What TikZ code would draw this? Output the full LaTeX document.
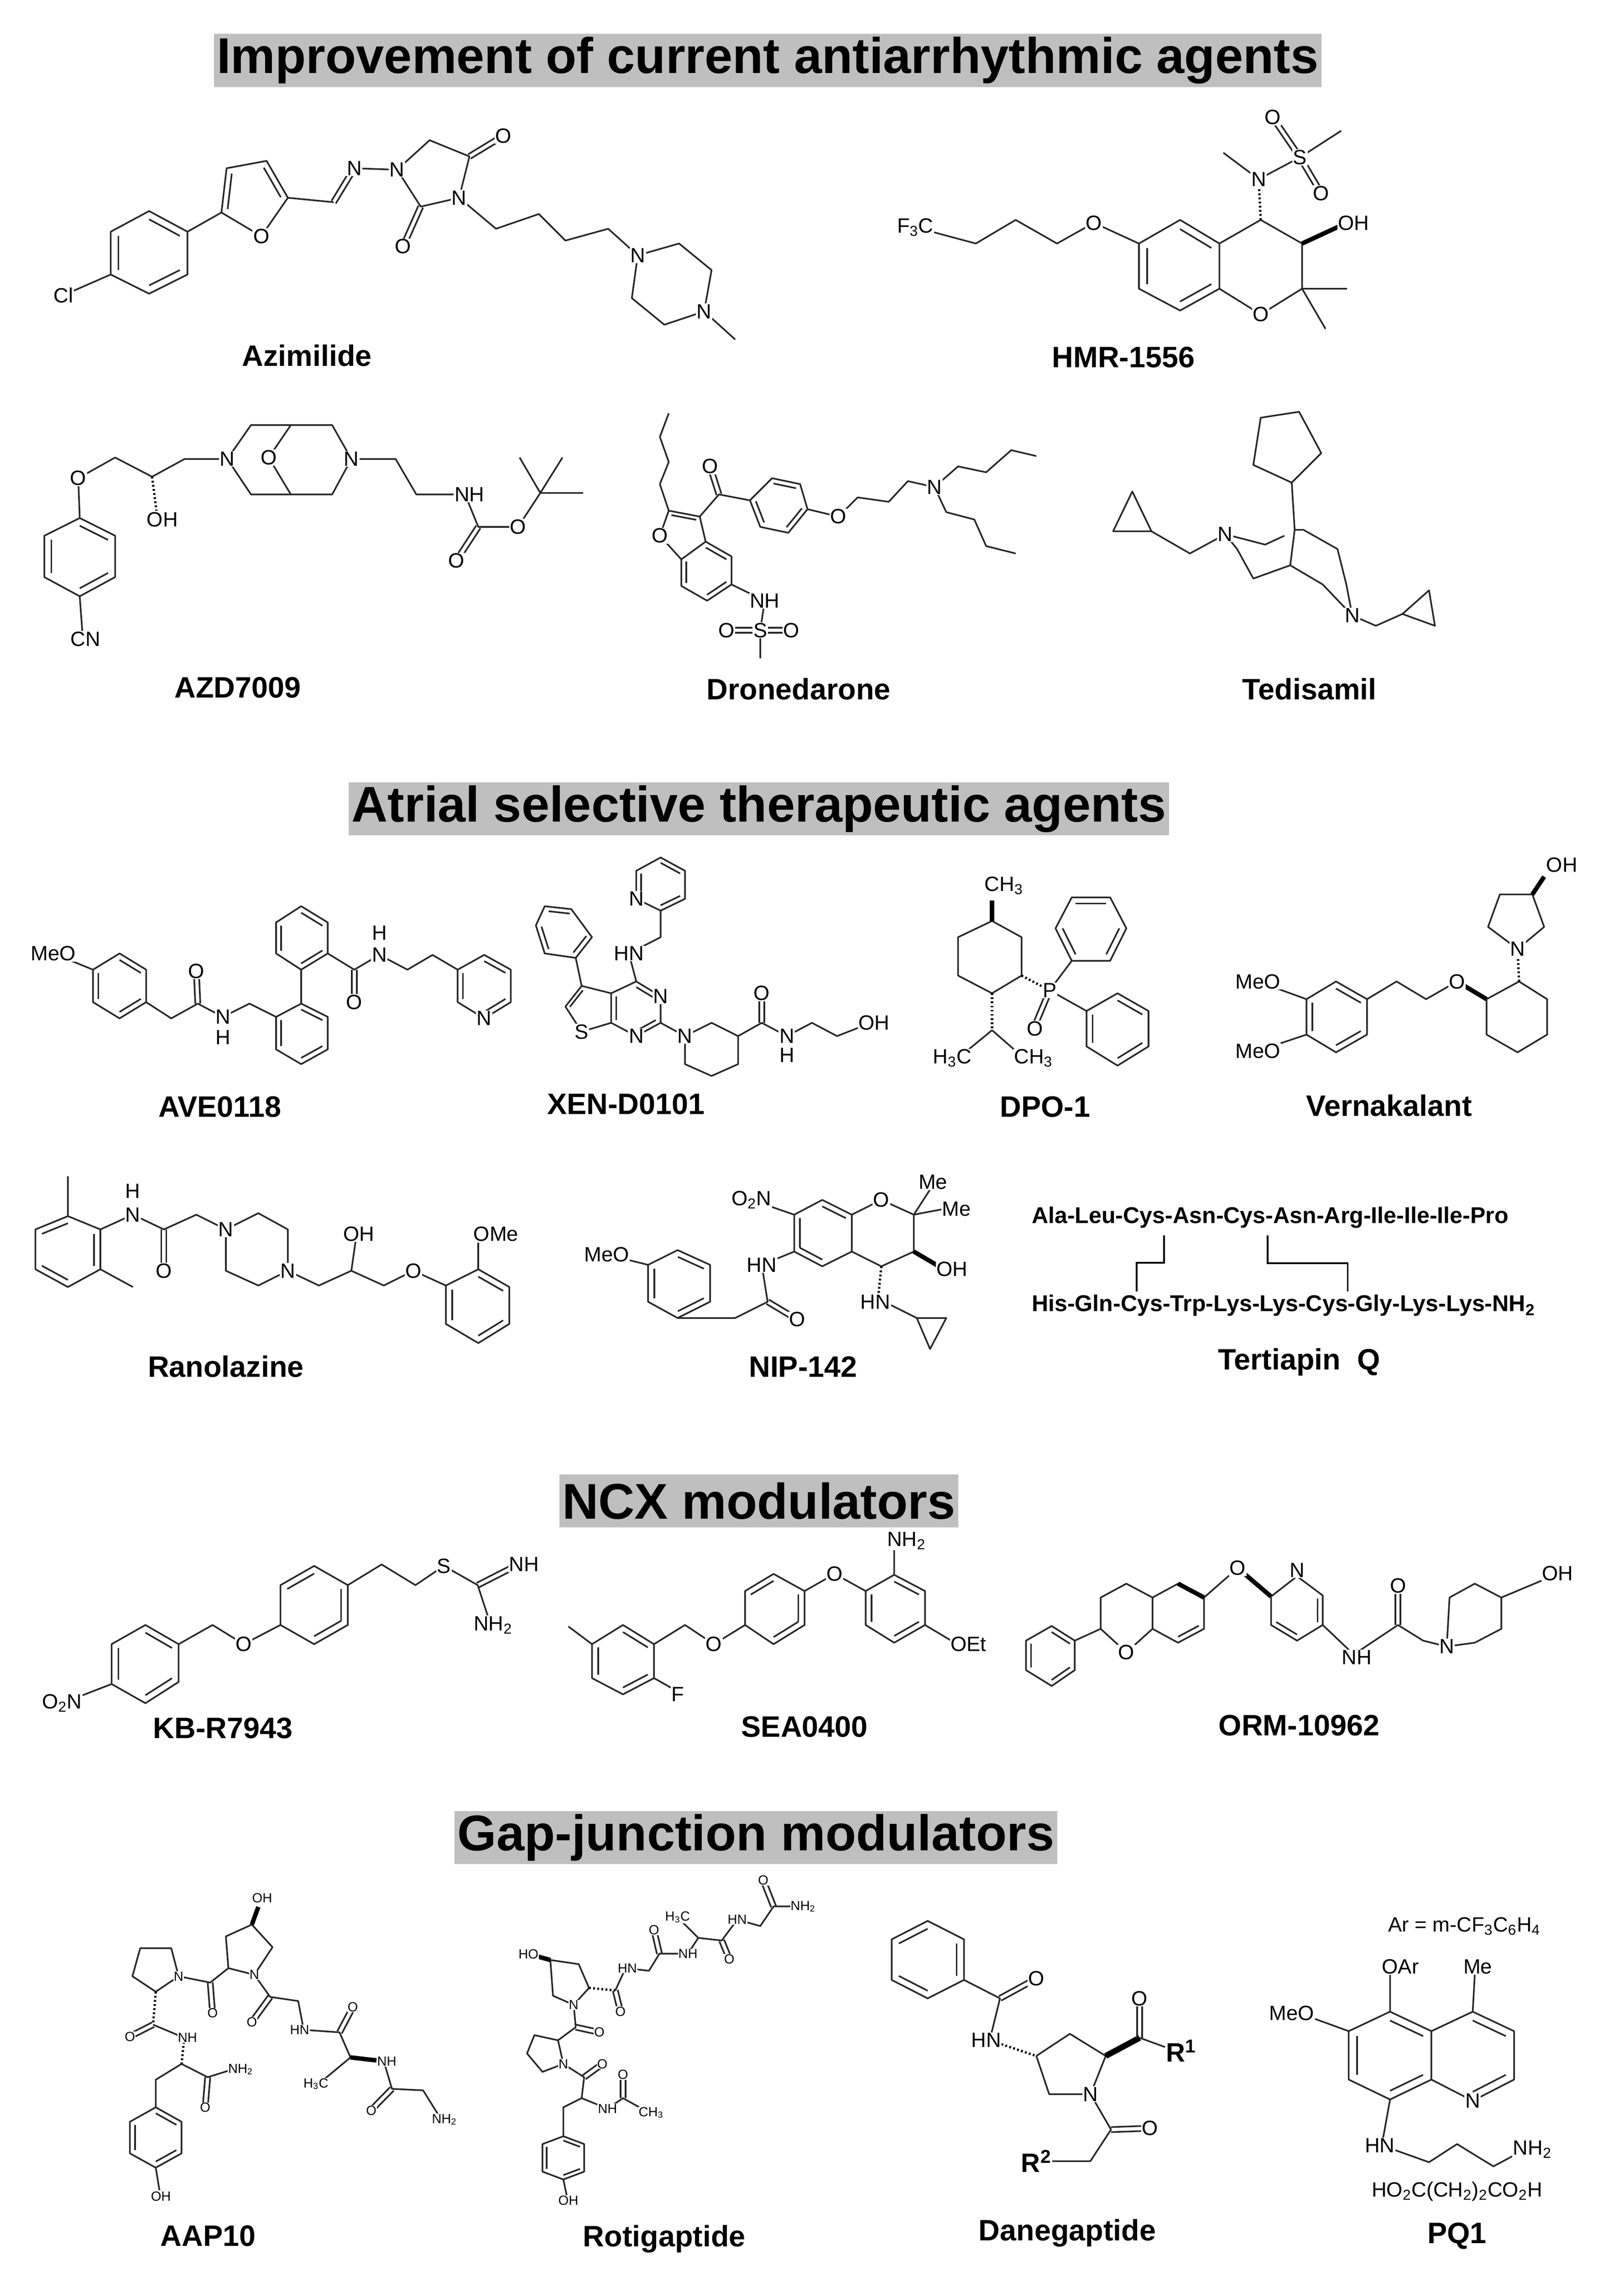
\documentclass[tikz,border=0pt]{standalone}
\usepackage{fontspec}
\setmainfont{Liberation Sans}
\usetikzlibrary{calc}
\begin{document}
\begin{tikzpicture}[x=1pt,y=-1pt,
 bond/.style={line width=1.1pt,line join=round,black!85},
 wedge/.style={line width=3pt,black},
 hash/.style={line width=1.6pt,dash pattern=on 1.2pt off 1.6pt},
 atom/.style={fill=white,inner sep=0.5pt,font=\fontsize{14}{14}\selectfont},
 satom/.style={fill=white,inner sep=0.3pt,font=\fontsize{9}{9}\selectfont},
 hdr/.style={fill=black!25,inner sep=2pt,font=\fontsize{34}{34}\selectfont\bfseries,minimum height=36pt},
 lbl/.style={font=\fontsize{20}{20}\selectfont\bfseries}]
\newcommand\sbs[1]{\textsubscript{#1}}
\newcommand\inb[3]{\draw[bond] ($#1!0.2!#3$) -- ($#2!0.2!#3$);}
\newcommand\dbo[2]{\draw[bond] ($#1!1.7pt!90:#2$)--($#2!1.7pt!-90:#1$) ($#1!1.7pt!-90:#2$)--($#2!1.7pt!90:#1$);}
\useasboundingbox (0,0) rectangle (1100,1545.5);
\fill[white] (0,0) rectangle (1100,1545.5);
% headers
\node[hdr] (h1) at (520,41) {Improvement of current antiarrhythmic agents};
\node[hdr] (h2) at (514,548) {Atrial selective therapeutic agents};
\node[hdr] (h3) at (514,1017) {NCX modulators};
\node[hdr] (h4) at (512,1245) {Gap-junction modulators};
% labels
\node[lbl] at (208,241) {Azimilide};
\node[lbl] at (761,242) {HMR-1556};
\node[lbl] at (161,466) {AZD7009};
\node[lbl] at (541,467) {Dronedarone};
\node[lbl] at (887,467) {Tedisamil};
\node[lbl] at (149,750) {AVE0118};
\node[lbl] at (424,748) {XEN-D0101};
\node[lbl] at (708,750) {DPO-1};
\node[lbl] at (941,749) {Vernakalant};
\node[lbl] at (153,926) {Ranolazine};
\node[lbl] at (544,926) {NIP-142};
\node[lbl] at (880,923) {Tertiapin\ \ Q};
\node[lbl] at (151,1171) {KB-R7943};
\node[lbl] at (545,1170) {SEA0400};
\node[lbl] at (880,1169) {ORM-10962};
\node[lbl] at (141,1515) {AAP10};
\node[lbl] at (450,1517) {Rotigaptide};
\node[lbl] at (723,1513) {Danegaptide};
\node[lbl] at (987,1515) {PQ1};
%================ Azimilide
\draw[bond] (101,143)--(127,157)--(127,186)--(101,199)--(75,186)--(75,157)--cycle;
\inb{(101,143)}{(127,157)}{(101,171)}\inb{(127,186)}{(101,199)}{(101,171)}\inb{(75,186)}{(75,157)}{(101,171)}
\draw[bond] (75,186)--(43,200) (127,157)--(150,144);
\draw[bond] (150,144)--(177,160)--(195,134)--(180.6,109)--(153.5,114)--cycle;
\inb{(150,144)}{(153.5,114)}{(171,132)}\inb{(180.6,109)}{(195,134)}{(171,132)}
\draw[bond] (195,134)--(226,137);
\dbo{(226,137)}{(240,114)}
\draw[bond] (240,114)--(269,115)--(291,95)--(318,106)--(311,134)--(285,140)--(269,115);
\dbo{(318,106)}{(341,92)}\dbo{(285,140)}{(273,167)}
\draw[bond] (311,134)--(336,155)--(365,145)--(383,163)--(412,155)--(432,173)--(460,165)--(482,183)--(477,211)--(450,220)--(428,202)--(432,173) (477,211)--(498,230);
\node[atom] at (43,200) {Cl};
\node[atom] at (177,160) {O};
\node[atom] at (240,114) {N};
\node[atom] at (269,115) {N};
\node[atom] at (311,134) {N};
\node[atom] at (341,92) {O};
\node[atom] at (273,167) {O};
\node[atom] at (432,173) {N};
\node[atom] at (477,211) {N};
%================ HMR-1556
\draw[bond] (620,154)--(661,165)--(688,149)--(716,165)--(741,151)--(771.5,165);
\draw[bond] (771.5,165)--(799.4,149)--(826,165)--(826,195.6)--(799.4,210.4)--(771.5,195.6)--cycle;
\inb{(771.5,165)}{(771.5,195.6)}{(799,180)}\inb{(799.4,149)}{(826,165)}{(799,180)}\inb{(826,195.6)}{(799.4,210.4)}{(799,180)}
\draw[bond] (826,165)--(854,149)--(882,165)--(882,195.6)--(854,213)--(826,195.6);
\draw[hash] (854,149)--(852.6,121.4);
\draw[bond] (852.6,121.4)--(828.7,103.5) (852.6,121.4)--(880.6,106.6)--(908.5,88.6);
\dbo{(880.6,106.6)}{(862,79.4)}\dbo{(880.6,106.6)}{(895,131)}
\draw[wedge] (882,165)--(908,153);
\draw[bond] (882,195.6)--(912.5,195.6) (882,195.6)--(897.9,222.8);
\node[atom] at (620,154) {F\sbs{3}C};
\node[atom] at (741,151) {O};
\node[atom] at (854,213) {O};
\node[atom] at (852.6,121.4) {N};
\node[atom] at (880.6,106.6) {S};
\node[atom] at (862,79.4) {O};
\node[atom] at (895,131) {O};
\node[atom] at (917,151) {OH};
%================ AZD7009
\draw[bond] (54,351)--(78,363)--(78,391)--(54,404)--(30,391)--(30,363)--cycle;
\inb{(54,351)}{(78,363)}{(54,377)}\inb{(78,391)}{(54,404)}{(54,377)}\inb{(30,391)}{(30,363)}{(54,377)}
\draw[bond] (54,404)--(56,431) (54,351)--(53,324)--(78,310)--(103,323)--(125,311)--(154,311);
\draw[hash] (103,323)--(106,346);
\draw[bond] (154,311)--(170,288)--(225,288)--(238,311)--(225,335)--(170,335)--(154,311);
\draw[bond] (197,288)--(182,310)--(197,335);
\draw[bond] (238,311)--(268,311)--(282,335)--(315,335)--(324,357)--(351,357)--(366,334);
\dbo{(324,357)}{(309,380)}
\draw[bond] (366,334)--(352,310) (366,334)--(381,310) (366,334)--(395,334);
\node[atom] at (53,324) {O};
\node[atom] at (58,433) {CN};
\node[atom] at (110,352) {OH};
\node[atom] at (154,311) {N};
\node[atom] at (182,310) {O};
\node[atom] at (238,311) {N};
\node[atom] at (318,335) {NH};
\node[atom] at (309,380) {O};
\node[atom] at (351,357) {O};
%================ Dronedarone
\draw[bond] (478,367)--(495.5,377)--(495.5,396)--(479,407)--(461.5,397)--(461.5,379)--cycle;
\inb{(478,367)}{(495.5,377)}{(478.5,387)}\inb{(495.5,396)}{(479,407)}{(478.5,387)}\inb{(461.5,397)}{(461.5,379)}{(478.5,387)}
\draw[bond] (461.5,379)--(447,363)--(453,346)--(474,350)--(478,367);
\inb{(453,346)}{(474,350)}{(462,361)}
\draw[bond] (453,346)--(447,328)--(453,313)--(447,296)--(453,280);
\draw[bond] (495.5,396)--(518,407)--(515,427)--(515,446);
\dbo{(515,427)}{(492,427)}\dbo{(515,427)}{(534,427)}
\draw[bond] (474,350)--(487,335)--(508,339);
\dbo{(487,335)}{(481,316)}
\draw[bond] (508,339)--(523,324)--(542,328)--(547,345)--(534,361)--(515,357)--cycle;
\inb{(523,324)}{(542,328)}{(528,342)}\inb{(547,345)}{(534,361)}{(528,342)}\inb{(515,357)}{(508,339)}{(528,342)}
\draw[bond] (547,345)--(568,350)--(581,337)--(602,340)--(615,326)--(633,330)--(649,316)--(668,320)--(685,305)--(702,309) (633,330)--(641,347)--(660,352)--(668,370)--(688,375);
\node[atom] at (447,363) {O};
\node[atom] at (518,407) {NH};
\node[atom] at (515,427) {S};
\node[atom] at (492,427) {O};
\node[atom] at (536,427) {O};
\node[atom] at (481,316) {O};
\node[atom] at (568,350) {O};
\node[atom] at (633,330) {N};
%================ Tedisamil
\draw[bond] (854,283)--(880,279)--(895,307)--(875,327)--(849,315)--cycle;
\draw[bond] (875,327)--(877,359)--(874,383);
\draw[bond] (767,333)--(754,360)--(780,360)--cycle;
\draw[bond] (780,360)--(806,375)--(830,362)--(857,369)--(870,363) (830,362)--(838,372)--(849,392)--(874,383)--(896,396)--(916,417);
\draw[bond] (877,359)--(883,359)--(906,372)--(912,396)--(916,417)--(932,424)--(950,416);
\draw[bond] (950,416)--(972,424)--(968,400)--cycle;
\node[atom] at (830,362) {N};
\node[atom] at (916,417) {N};
%================ AVE0118
\draw[bond] (81,646)--(99,657)--(99,679)--(81,690)--(63,679)--(63,657)--cycle;
\inb{(81,646)}{(99,657)}{(81,668)}\inb{(99,679)}{(81,690)}{(81,668)}\inb{(63,679)}{(63,657)}{(81,668)}
\draw[bond] (36,646)--(63,657) (99,679)--(116,690)--(134,680)--(151,689)--(169,680)--(187,689);
\dbo{(134,680)}{(133,658)}
\draw[bond] (187,689)--(204,680)--(222,689)--(222,711)--(204,721)--(187,711)--cycle;
\inb{(204,680)}{(222,689)}{(204,700)}\inb{(222,711)}{(204,721)}{(204,700)}\inb{(187,711)}{(187,689)}{(204,700)}
\draw[bond] (204,614)--(222,625)--(222,646)--(204,657)--(187,646)--(187,625)--cycle;
\inb{(204,614)}{(222,625)}{(204,636)}\inb{(222,646)}{(204,657)}{(204,636)}\inb{(187,646)}{(187,625)}{(204,636)}
\draw[bond] (204,657)--(204,680) (222,646)--(240,657)--(257,647)--(276,657)--(293,647)--(310,657);
\dbo{(240,657)}{(240,679)}
\draw[bond] (310,657)--(328,647)--(346,657)--(346,679)--(328,690)--(310,679)--cycle;
\inb{(328,647)}{(346,657)}{(328,668)}\inb{(346,679)}{(328,690)}{(328,668)}\inb{(310,679)}{(310,657)}{(328,668)}
\node[atom] at (36,646) {MeO};
\node[atom] at (133,658) {O};
\node[atom] at (151,689) {N};
\node[atom] at (151,703) {H};
\node[atom] at (240,679) {O};
\node[atom] at (257,647) {N};
\node[atom] at (257,632) {H};
\node[atom] at (328,690) {N};
%================ XEN-D0101
\draw[bond] (447.5,581)--(464,590)--(464,609)--(447.5,617)--(431,609)--(431,590)--cycle;
\inb{(447.5,581)}{(464,590)}{(447.5,599)}\inb{(464,609)}{(447.5,617)}{(447.5,599)}\inb{(431,609)}{(431,590)}{(447.5,599)}
\draw[bond] (447.5,617)--(447.5,635)--(426,646)--(431,665)--(447.5,675)--(447.5,693)--(431,702)--(414,693)--(414,673)--(431,665);
\inb{(431,665)}{(447.5,675)}{(431,684)}\inb{(447.5,693)}{(431,702)}{(431,684)}\inb{(414,693)}{(414,673)}{(431,684)}
\draw[bond] (414,673)--(394,668)--(383,682)--(394,699)--(414,693);
\inb{(394,668)}{(383,682)}{(398,683)}
\draw[bond] (369,614)--(387,616)--(401,635)--(390,649)--(369,646)--(363,627)--cycle;
\inb{(369,614)}{(387,616)}{(382,631)}\inb{(401,635)}{(390,649)}{(382,631)}\inb{(369,646)}{(363,627)}{(382,631)}
\draw[bond] (394,668)--(390,649) (447.5,693)--(464,702);
\draw[bond] (464,702)--(482,693)--(500,702)--(500,721)--(482,729)--(464,721)--cycle;
\draw[bond] (500,702)--(516,693)--(533,702)--(550,693)--(567,702)--(590,693);
\dbo{(516,693)}{(516,673)}
\node[atom] at (431,609) {N};
\node[atom] at (426,646) {HN};
\node[atom] at (447.5,675) {N};
\node[atom] at (431,702) {N};
\node[atom] at (394,699) {S};
\node[atom] at (464,702) {N};
\node[atom] at (516,673) {O};
\node[atom] at (533,702) {N};
\node[atom] at (533,715) {H};
\node[atom] at (592,693) {OH};
%================ DPO-1
\draw[bond] (672,624)--(692,635)--(692,661)--(672,673)--(649,661)--(649,635)--cycle;
\draw[wedge] (672,624)--(672,610);
\draw[hash] (692,661)--(711,671);
\draw[bond] (711,671)--(726,651) (711,671)--(736,685);
\dbo{(711,671)}{(701,695)}
\draw[bond] (726,608)--(752,608)--(763,629)--(752,651)--(726,651)--(715,629)--cycle;
\inb{(726,608)}{(752,608)}{(739,629)}\inb{(763,629)}{(752,651)}{(739,629)}\inb{(726,651)}{(715,629)}{(739,629)}
\draw[bond] (757,673)--(778,685)--(778,709)--(757,722)--(736,709)--(736,685)--cycle;
\inb{(757,673)}{(778,685)}{(757,697)}\inb{(778,709)}{(757,722)}{(757,697)}\inb{(736,709)}{(736,685)}{(757,697)}
\draw[hash] (672,673)--(672,698);
\draw[bond] (672,698)--(655,712) (672,698)--(688,712);
\node[atom] at (680,600) {CH\sbs{3}};
\node[atom] at (711,671) {P};
\node[atom] at (701,697) {O};
\node[atom] at (645,717) {H\sbs{3}C};
\node[atom] at (700,717) {CH\sbs{3}};
%================ Vernakalant
\draw[bond] (885,677)--(905,665)--(926,677)--(926,701)--(905,713)--(885,701)--cycle;
\inb{(905,665)}{(926,677)}{(905,689)}\inb{(926,701)}{(905,713)}{(905,689)}\inb{(885,701)}{(885,677)}{(905,689)}
\draw[bond] (852,665)--(885,677) (852,712)--(885,701) (926,677)--(946,665)--(966,677)--(987,665);
\draw[wedge] (987,665)--(1007,677);
\draw[bond] (1007,677)--(1029,665)--(1048,677)--(1048,701)--(1028,713)--(1007,701)--cycle;
\draw[hash] (1029,665)--(1028,643);
\draw[bond] (1028,643)--(1008,628)--(1016,606)--(1038,606)--(1046,628)--cycle;
\draw[wedge] (1038,606)--(1046,594);
\node[atom] at (852,665) {MeO};
\node[atom] at (852,712) {MeO};
\node[atom] at (987,665) {O};
\node[atom] at (1028,643) {N};
\node[atom] at (1058,586) {OH};
%================ Ranolazine
\draw[bond] (46,824)--(68,833)--(68,860)--(46,872)--(24,860)--(24,833)--cycle;
\inb{(46,824)}{(24,833)}{(46,848)}\inb{(68,833)}{(68,860)}{(46,848)}\inb{(46,872)}{(24,860)}{(46,848)}
\draw[bond] (46,824)--(46,797) (68,860)--(90,872) (68,833)--(90,823)--(111,833)--(133,823)--(153,833);
\dbo{(111,833)}{(111,861)}
\draw[bond] (153,833)--(175,822)--(195,833)--(195,861)--(175,871)--(153,861)--cycle;
\draw[bond] (195,861)--(216,871)--(238,861)--(260,871)--(280,861)--(302,871) (238,861)--(241,840);
\draw[bond] (302,871)--(324,860)--(345,872)--(345,897)--(324,910)--(302,897)--cycle;
\inb{(324,860)}{(345,872)}{(324,885)}\inb{(345,897)}{(324,910)}{(324,885)}\inb{(302,897)}{(302,871)}{(324,885)}
\draw[bond] (324,860)--(324,842);
\node[atom] at (90,823) {N};
\node[atom] at (90,807) {H};
\node[atom] at (111,861) {O};
\node[atom] at (153,833) {N};
\node[atom] at (195,861) {N};
\node[atom] at (243,836) {OH};
\node[atom] at (280,861) {O};
\node[atom] at (336,836) {OMe};
%================ NIP-142
\draw[bond] (459,847)--(481,857)--(481,882)--(459,893)--(439,882)--(439,857)--cycle;
\inb{(459,847)}{(481,857)}{(460,870)}\inb{(481,882)}{(459,893)}{(460,870)}\inb{(439,882)}{(439,857)}{(460,870)}
\draw[bond] (411,850)--(439,857) (459,893)--(498,893)--(520,882)--(516,857)--(538,848);
\dbo{(520,882)}{(540,894)}
\draw[bond] (538,848)--(557,858)--(577,848)--(577,823)--(557,813)--(538,823)--cycle;
\inb{(538,848)}{(557,858)}{(557,835)}\inb{(577,823)}{(557,813)}{(557,835)}\inb{(538,823)}{(538,848)}{(557,835)}
\draw[bond] (538,823)--(509,813) (577,823)--(597,813)--(619,823)--(619,848)--(597,858)--(577,848);
\draw[bond] (619,823)--(630,806) (619,823)--(640,819);
\draw[wedge] (619,848)--(636,858);
\draw[hash] (597,858)--(595,878);
\draw[bond] (595,880)--(621,893)--(641,893)--(630,914)--(621,893);
\node[atom] at (411,850) {MeO};
\node[atom] at (516,857) {HN};
\node[atom] at (540,894) {O};
\node[atom] at (509,813) {O\sbs{2}N};
\node[atom] at (597,813) {O};
\node[atom] at (632,801) {Me};
\node[atom] at (648,819) {Me};
\node[atom] at (645,860) {OH};
\node[atom] at (593,882) {HN};
%================ Tertiapin Q
\node[anchor=west,inner sep=0pt,font=\fontsize{15.5}{15.5}\selectfont\bfseries] (tq1) at (698.7,825) {Ala-Leu-Cys-Asn-Cys-Asn-Arg-Ile-Ile-Ile-Pro};
\node[anchor=west,inner sep=0pt,font=\fontsize{15.5}{15.5}\selectfont\bfseries] (tq2) at (698.7,884.6) {His-Gln-Cys-Trp-Lys-Lys-Cys-Gly-Lys-Lys-NH\sbs{2}};
\draw[line width=1.2pt] (788.6,837)--(788.6,855.5)--(770,855.5)--(770,875);
\draw[line width=1.2pt] (858.7,837)--(858.7,856)--(912.9,856)--(912.9,875);
%================ KB-R7943
\draw[bond] (98.5,1101)--(121,1114)--(121,1139.6)--(98.5,1154)--(75.6,1141)--(75.6,1114)--cycle;
\inb{(98.5,1101)}{(121,1114)}{(98.5,1127)}\inb{(121,1139.6)}{(98.5,1154)}{(98.5,1127)}\inb{(75.6,1141)}{(75.6,1114)}{(98.5,1127)}
\draw[bond] (75.6,1141)--(42,1154) (121,1114)--(144,1101)--(165,1114)--(190,1101);
\draw[bond] (212.8,1061)--(235.6,1074)--(235.6,1101)--(212.8,1114)--(190,1101)--(190,1074)--cycle;
\inb{(212.8,1061)}{(190,1074)}{(212.8,1087)}\inb{(235.6,1101)}{(212.8,1114)}{(212.8,1087)}\inb{(235.6,1074)}{(235.6,1101)}{(212.8,1087)}
\draw[bond] (235.6,1074)--(258.5,1060)--(281.4,1074)--(300.7,1061)--(323.6,1074)--(332.4,1101);
\dbo{(323.6,1074)}{(351.7,1059.7)}
\node[atom] at (42,1154) {O\sbs{2}N};
\node[atom] at (165,1114) {O};
\node[atom] at (300.7,1061) {S};
\node[atom] at (355,1060) {NH};
\node[atom] at (334,1101) {NH\sbs{2}};
%================ SEA0400
\draw[bond] (422,1101)--(443,1114)--(443,1137)--(422,1148)--(401,1137)--(401,1114)--cycle;
\inb{(422,1101)}{(443,1114)}{(422,1125)}\inb{(443,1137)}{(422,1148)}{(422,1125)}\inb{(401,1137)}{(401,1114)}{(422,1125)}
\draw[bond] (401,1114)--(385,1102) (443,1137)--(459,1146) (443,1114)--(464,1101)--(483.6,1114)--(504.7,1101);
\draw[bond] (524,1066.4)--(545,1078)--(545,1101)--(524,1114)--(504.7,1101)--(504.7,1078)--cycle;
\inb{(524,1066.4)}{(504.7,1078)}{(524,1090)}\inb{(545,1101)}{(524,1114)}{(524,1090)}\inb{(545,1078)}{(545,1101)}{(524,1090)}
\draw[bond] (545,1078)--(565.4,1066.4)--(586.4,1078);
\draw[bond] (605.7,1067)--(626.6,1078)--(626.6,1101)--(605.7,1113)--(586.4,1101)--(586.4,1078)--cycle;
\inb{(605.7,1067)}{(626.6,1078)}{(606,1090)}\inb{(626.6,1101)}{(605.7,1113)}{(606,1090)}\inb{(586.4,1101)}{(586.4,1078)}{(606,1090)}
\draw[bond] (605.7,1067)--(605.7,1050) (626.6,1101)--(645,1112);
\node[atom] at (459,1148) {F};
\node[atom] at (483.6,1114) {O};
\node[atom] at (565.4,1066.4) {O};
\node[atom] at (614,1044) {NH\sbs{2}};
\node[atom] at (656,1114) {OEt};
%================ ORM-10962
\draw[bond] (712.4,1101.7)--(728,1111.6)--(728,1131.6)--(712.4,1142.3)--(695,1131.6)--(695,1111.6)--cycle;
\inb{(712.4,1101.7)}{(728,1111.6)}{(712,1122)}\inb{(728,1131.6)}{(712.4,1142.3)}{(712,1122)}\inb{(695,1131.6)}{(695,1111.6)}{(712,1122)}
\draw[bond] (728,1111.6)--(745.6,1103.6)--(763,1119.6)--(780.7,1103.6)--(780.7,1082.4)--(763,1073)--(745.6,1082.4)--(745.6,1103.6);
\draw[bond] (780.7,1082.4)--(798,1073)--(815.6,1082.4)--(815.6,1103.6)--(798,1113)--(780.7,1103.6);
\inb{(815.6,1103.6)}{(798,1113)}{(798,1093)}
\draw[wedge] (798,1073)--(815.6,1082.4);
\draw[bond] (815.6,1082.4)--(838.4,1062.4);
\draw[wedge] (838.4,1062.4)--(861,1081.7);
\draw[bond] (861,1081.7)--(878.6,1068)--(896,1081)--(896,1101)--(878.6,1111.6)--(861,1101)--cycle;
\inb{(861,1101)}{(878.6,1111.6)}{(878.6,1091)}\inb{(896,1081)}{(896,1101)}{(878.6,1091)}
\draw[bond] (896,1101)--(917,1121)--(947,1101)--(964,1111.6)--(980,1115.6)--(981.9,1082.4)--(999,1073)--(1017,1082.4)--(1017,1103.6)--(999,1113)--(980,1115.6) (1017,1082.4)--(1052,1067.7);
\dbo{(947,1101)}{(947,1074.4)}
\node[atom] at (763,1119.6) {O};
\node[atom] at (838.4,1062.4) {O};
\node[atom] at (878.6,1064) {N};
\node[atom] at (919,1123) {NH};
\node[atom] at (947,1074.4) {O};
\node[atom] at (980,1115.6) {N};
\node[atom] at (1055,1066) {OH};
%================ AAP10
\draw[bond] (95,1320)--(116,1320)--(121,1339)--(105.5,1349.5)--(89.7,1339)--cycle;
\draw[bond] (121,1339)--(142.4,1343.3)--(154.7,1333.5);
\dbo{(142.4,1343.3)}{(144,1363.8)}
\draw[bond] (154.7,1333.5)--(153,1312)--(170.6,1304)--(184.6,1319.3)--(172.3,1338)--cycle;
\draw[wedge] (170.6,1304)--(175,1292);
\draw[bond] (172.3,1338)--(183,1353)--(202,1355.8)--(205.7,1375.3)--(230,1377)--(237.4,1394)--(216,1411.8);
\dbo{(183,1353)}{(170.6,1370)}\dbo{(230,1377)}{(239,1360)}
\draw[wedge] (237.4,1394)--(255,1396);
\draw[bond] (260,1396.7)--(265.5,1415.3)--(286.6,1416.3)--(297,1433);
\dbo{(265.5,1415.3)}{(251.5,1429.6)}
\draw[hash] (105.5,1349.5)--(103.7,1371.8);
\dbo{(103.7,1371.8)}{(88,1379.8)}
\draw[bond] (103.7,1371.8)--(124.8,1380.7);
\draw[hash] (124.8,1380.7)--(123,1398.4);
\draw[bond] (123,1398.4)--(105.5,1409.1)--(105.5,1427.8) (123,1398.4)--(140.7,1407.4)--(158,1402);
\dbo{(140.7,1407.4)}{(139,1427.8)}
\draw[bond] (105.5,1427.8)--(123,1437.6)--(123,1459)--(105.5,1468.7)--(88,1459)--(88,1437.6)--cycle;
\inb{(105.5,1427.8)}{(123,1437.6)}{(105.5,1448)}\inb{(123,1459)}{(105.5,1468.7)}{(105.5,1448)}\inb{(88,1459)}{(88,1437.6)}{(105.5,1448)}
\draw[bond] (105.5,1468.7)--(108,1484);
\node[satom] at (121,1339) {N};
\node[satom] at (172.3,1338) {N};
\node[satom] at (177.6,1286) {OH};
\node[satom] at (144,1364) {O};
\node[satom] at (170.6,1370) {O};
\node[satom] at (203,1375.3) {HN};
\node[satom] at (239,1360) {O};
\node[satom] at (214,1412) {H\sbs{3}C};
\node[satom] at (262,1396.7) {NH};
\node[satom] at (251.5,1430) {O};
\node[satom] at (301,1436) {NH\sbs{2}};
\node[satom] at (88,1380) {O};
\node[satom] at (127,1380.7) {NH};
\node[satom] at (163,1402) {NH\sbs{2}};
\node[satom] at (139,1428) {O};
\node[satom] at (109,1488) {OH};
%================ Rotigaptide
\draw[bond] (372.8,1328)--(392,1330.8)--(399,1346.9)--(388.6,1358.4)--(374.6,1352.2)--cycle;
\draw[wedge] (372.8,1328)--(362,1325);
\draw[hash] (399,1346.9)--(416.8,1348.6);
\draw[bond] (416.8,1348.6)--(423.8,1333.5)--(439.6,1335.3)--(446.7,1323.7)--(466,1323.7)--(473,1313)--(488.9,1314.8)--(499.4,1300.6)--(515,1305)--(524,1291.7)--(540,1291.7) (473,1313)--(462,1302);
\dbo{(416.8,1348.6)}{(420.3,1362.9)}\dbo{(446.7,1323.7)}{(443,1307.7)}\dbo{(488.9,1314.8)}{(494,1327.3)}\dbo{(524,1291.7)}{(517,1274)}
\draw[bond] (388.6,1358.4)--(390,1373.5)--(378,1382.4);
\dbo{(390,1373.5)}{(406,1377)}
\draw[bond] (378,1382.4)--(362,1378.9)--(357,1391.3)--(367.5,1403.8)--(381.6,1398.4)--cycle;
\draw[bond] (381.6,1398.4)--(395.7,1407.4)--(394,1421.6)--(411.5,1428.7)--(422,1421.6)--(439.6,1431.4) (394,1421.6)--(381.6,1427.8)--(381.6,1447.4);
\dbo{(395.7,1407.4)}{(408,1398.4)}\dbo{(422,1421.6)}{(422,1405.6)}
\draw[bond] (381.6,1447.4)--(395.7,1452.7)--(395.7,1471.4)--(381.6,1476.7)--(367.5,1471.4)--(367.5,1452.7)--cycle;
\inb{(381.6,1447.4)}{(395.7,1452.7)}{(381.6,1462)}\inb{(395.7,1471.4)}{(381.6,1476.7)}{(381.6,1462)}\inb{(367.5,1471.4)}{(367.5,1452.7)}{(381.6,1462)}
\draw[bond] (381.6,1476.7)--(384,1488);
\node[satom] at (358,1324) {HO};
\node[satom] at (388.6,1358.4) {N};
\node[satom] at (420.3,1363) {O};
\node[satom] at (425,1333.5) {HN};
\node[satom] at (443,1307.7) {O};
\node[satom] at (466,1323.7) {NH};
\node[satom] at (459,1299) {H\sbs{3}C};
\node[satom] at (494,1327.3) {O};
\node[satom] at (499.4,1300.6) {HN};
\node[satom] at (517,1274) {O};
\node[satom] at (544,1291.7) {NH\sbs{2}};
\node[satom] at (406,1377) {O};
\node[satom] at (381.6,1398.4) {N};
\node[satom] at (408,1398.4) {O};
\node[satom] at (411.5,1428.7) {NH};
\node[satom] at (422,1405.6) {O};
\node[satom] at (441,1431.4) {CH\sbs{3}};
\node[satom] at (385,1491) {OH};
%================ Danegaptide
\draw[bond] (628.4,1301.5)--(653,1314)--(653,1341.5)--(628.4,1354)--(604,1341.5)--(604,1314)--cycle;
\inb{(628.4,1301.5)}{(604,1314)}{(628.4,1328)}\inb{(653,1314)}{(653,1341.5)}{(628.4,1328)}\inb{(628.4,1354)}{(604,1341.5)}{(628.4,1328)}
\draw[bond] (653,1341.5)--(677.4,1354)--(670.4,1382.4);
\dbo{(677.4,1354)}{(702,1340.6)}
\draw[hash] (670.4,1382.4)--(702,1393);
\draw[bond] (702,1393)--(724.7,1378)--(749,1393)--(738.7,1418.9)--(710.7,1418.9)--(702,1393);
\draw[line width=4pt] (749,1393)--(772,1380.7);
\draw[bond] (772,1380.7)--(796.4,1389.6);
\dbo{(772,1380.7)}{(772,1354)}
\draw[bond] (738.7,1418.9)--(752.6,1442.9)--(738.6,1464.3)--(705.4,1464.3);
\dbo{(752.6,1442.9)}{(779,1442)}
\node[atom] at (702,1340.6) {O};
\node[atom] at (668,1382.4) {HN};
\node[atom] at (738.7,1418.9) {N};
\node[atom] at (772,1354) {O};
\node[atom,font=\fontsize{18}{18}\selectfont\bfseries] at (800,1389.6) {R\textsuperscript{1}};
\node[atom] at (779,1442) {O};
\node[atom,font=\fontsize{18}{18}\selectfont\bfseries] at (702,1464.3) {R\textsuperscript{2}};
%================ PQ1
\draw[bond] (941.6,1363)--(969.6,1376.2)--(969.6,1409)--(941.6,1422.5)--(913.6,1409)--(913.6,1376.2)--cycle;
\draw[bond] (969.6,1376.2)--(997.6,1363)--(1025.6,1376.2)--(1025.6,1409)--(997.6,1423.4)--(969.6,1409);
\inb{(941.6,1363)}{(969.6,1376.2)}{(941.6,1393)}\inb{(969.6,1409)}{(941.6,1422.5)}{(941.6,1393)}\inb{(913.6,1409)}{(913.6,1376.2)}{(941.6,1393)}
\inb{(997.6,1363)}{(1025.6,1376.2)}{(997.6,1393)}\inb{(1025.6,1409)}{(997.6,1423.4)}{(997.6,1393)}
\draw[bond] (941.6,1363)--(941.6,1338) (997.6,1363)--(999,1338) (913.6,1376.2)--(880,1364) (941.6,1422.5)--(936,1453.6)--(968,1465)--(987,1452.7)--(1011.6,1467.8)--(1030,1458);
\node[atom] at (992,1305) {Ar = m-CF\sbs{3}C\sbs{6}H\sbs{4}};
\node[atom] at (948.6,1332.6) {OAr};
\node[atom] at (1001,1332.6) {Me};
\node[atom] at (875,1364) {MeO};
\node[atom] at (997.6,1423.4) {N};
\node[atom] at (934.7,1453.6) {HN};
\node[atom] at (1038,1456.3) {NH\sbs{2}};
\node[atom] at (987,1484.7) {HO\sbs{2}C(CH\sbs{2})\sbs{2}CO\sbs{2}H};
\end{tikzpicture}
\end{document}
